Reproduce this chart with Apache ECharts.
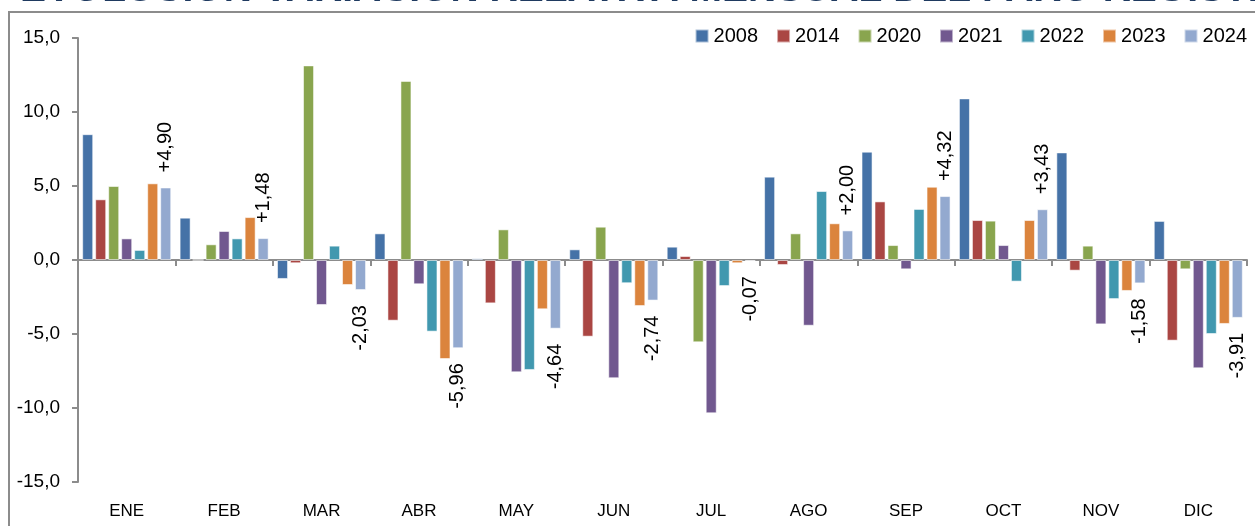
<!DOCTYPE html>
<html>
<head>
    <meta charset="utf-8">
    <title>Evolución variación relativa mensual del paro registrado</title>
    <script src="https://cdn.jsdelivr.net/npm/echarts@6/dist/echarts.min.js"></script>
    <style>
        html, body { margin: 0; padding: 0; background: #fff; }
        #chart { width: 1255px; height: 526px; }
    </style>
</head>
<body>
<div id="chart"></div>
<script>
    // datos (variacion % mensual)
    var meses = ['ENE', 'FEB', 'MAR', 'ABR', 'MAY', 'JUN', 'JUL', 'AGO', 'SEP', 'OCT', 'NOV', 'DIC'];
    var anios = ['2008', '2014', '2020', '2021', '2022', '2023', '2024'];
    var colores = ['#4572A7', '#AA4643', '#89A54E', '#71588F', '#4198AF', '#DB843D', '#93A9CF'];

    var v2008 = [8.50, 2.86, -1.28, 1.80, 0.11, 0.72, 0.90, 5.63, 7.32, 10.92, 7.27, 2.64];
    var v2014 = [4.10, 0.00, -0.22, -4.10, -2.93, -5.18, 0.27, -0.34, 3.96, 2.70, -0.72, -5.45];
    var v2020 = [5.00, 1.06, 13.15, 12.10, 2.07, 2.25, -5.56, 1.80, 1.01, 2.66, 0.97, -0.63];
    var v2021 = [1.46, 1.96, -3.04, -1.64, -7.59, -7.99, -10.36, -4.44, -0.63, 1.01, -4.35, -7.32];
    var v2022 = [0.68, 1.46, 0.97, -4.84, -7.43, -1.57, -1.76, 4.66, 3.45, -1.46, -2.64, -5.00];
    var v2023 = [5.18, 2.90, -1.69, -6.69, -3.33, -3.11, -0.22, 2.48, 4.95, 2.70, -2.09, -4.32];
    var v2024 = [4.90, 1.48, -2.03, -5.96, -4.64, -2.74, -0.07, 2.00, 4.32, 3.43, -1.58, -3.91];

    var ticksY = [-15, -10, -5, 0, 5, 10, 15];

    var valores = [v2008, v2014, v2020, v2021, v2022, v2023, v2024];
    var fuente = 'Liberation Sans';

    function conComa(v, dec) {
        return v.toFixed(dec).replace('.', ',');
    }

    var series = [];
    for (var i = 0; i < anios.length; i++) {
        var datos = valores[i];
        if (i === anios.length - 1) {
            // solo 2024 lleva etiquetas, giradas
            datos = valores[i].map(function (v) {
                var pos = v >= 0;
                return {
                    value: v,
                    label: {
                        show: true,
                        position: pos ? 'top' : 'bottom',
                        align: pos ? 'left' : 'right',
                        verticalAlign: 'middle'
                    }
                };
            });
        }
        series.push({
            name: anios[i],
            type: 'bar',
            xAxisIndex: 1,
            data: datos,
            barGap: '18%',
            barCategoryGap: '8.6%',
            itemStyle: {
                color: colores[i],
                borderColor: 'rgba(255,255,255,0.55)',
                borderWidth: 1
            },
            label: {
                rotate: 90,
                distance: 15,
                color: '#000',
                fontFamily: fuente,
                fontSize: 20,
                formatter: function (p) {
                    return (p.value > 0 ? '+' : '') + conComa(p.value, 2);
                }
            },
            emphasis: { disabled: true }
        });
    }

    var chart = echarts.init(document.getElementById('chart'));

    var option = {
        animation: false,
        backgroundColor: '#fff',
        color: colores,
        graphic: [
            {
                type: 'text',
                left: 20,
                top: -29,
                style: {
                    text: 'EVOLUCIÓN VARIACIÓN RELATIVA MENSUAL DEL PARO REGISTRADO',
                    font: 'bold 39px Liberation Sans',
                    fill: '#1F3A60'
                }
            },
            {
                type: 'rect',
                shape: { x: 9, y: 12, width: 1400, height: 700 },
                style: { fill: 'none', stroke: '#8c8c8c', lineWidth: 2 },
                silent: true
            }
        ],
        legend: {
            data: anios,
            right: 3,
            top: 21,
            icon: 'rect',
            itemWidth: 13,
            itemHeight: 13,
            itemGap: 18,
            textStyle: { fontFamily: fuente, fontSize: 20, color: '#000' },
            selectedMode: false
        },
        grid: {
            left: 78,
            right: 8,
            top: 38,
            bottom: 44,
            containLabel: false
        },
        xAxis: [
            {
                type: 'category',
                data: meses,
                position: 'bottom',
                axisLine: { show: false, onZero: false },
                axisTick: { show: false },
                axisLabel: { margin: 21, fontFamily: fuente, fontSize: 17, color: '#000' }
            },
            {
                type: 'category',
                data: meses,
                position: 'top',
                axisLine: { show: true, onZero: true, lineStyle: { color: '#8c8c8c', width: 2 } },
                axisTick: { show: true, inside: true, length: 6, lineStyle: { color: '#8c8c8c', width: 2 } },
                axisLabel: { show: false }
            }
        ],
        yAxis: {
            type: 'value',
            min: ticksY[0],
            max: ticksY[ticksY.length - 1],
            interval: 5,
            axisLine: { show: true, lineStyle: { color: '#8c8c8c', width: 2 } },
            axisTick: { show: true, length: 6, lineStyle: { color: '#8c8c8c', width: 2 } },
            splitLine: { show: false },
            axisLabel: {
                margin: 18,
                fontFamily: fuente,
                fontSize: 19,
                color: '#000',
                formatter: function (v) { return conComa(v, 1); }
            }
        },
        series: series
    };

    chart.setOption(option);
    window.onresize = function () {
        chart.resize();
    };
</script>
</body>
</html>
